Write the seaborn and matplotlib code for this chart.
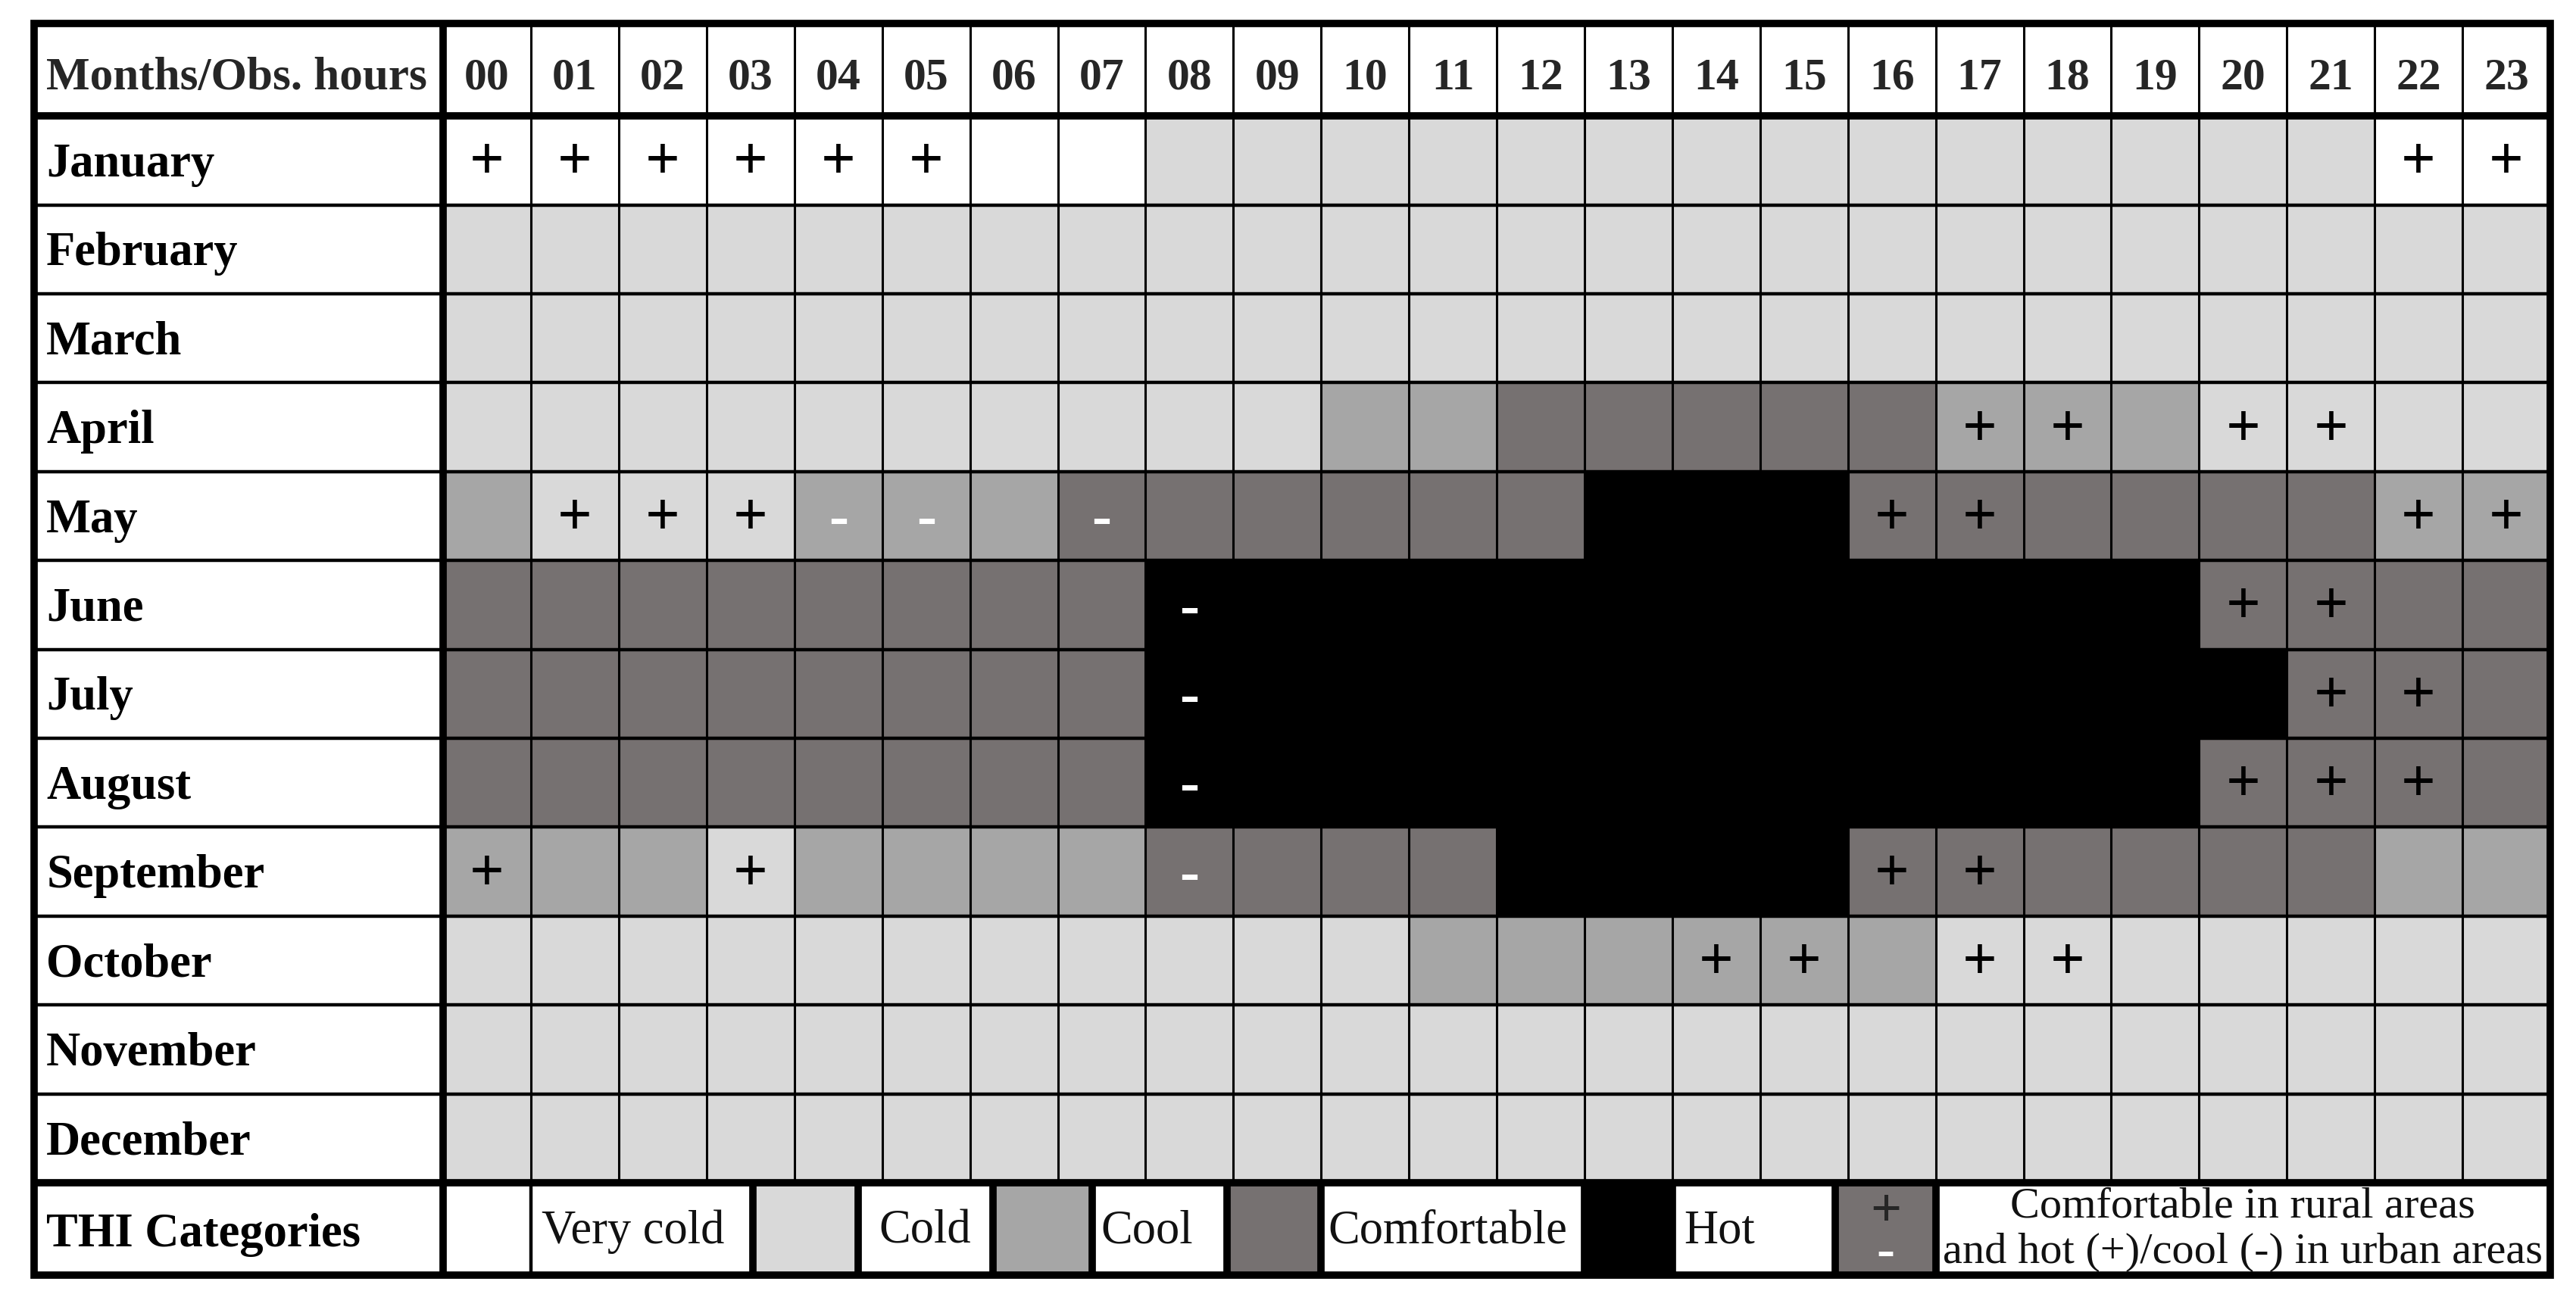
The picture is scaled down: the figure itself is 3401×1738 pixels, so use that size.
import matplotlib
matplotlib.use("Agg")
import numpy as np
import pandas as pd
import matplotlib.pyplot as plt
from matplotlib.colors import ListedColormap
from matplotlib.patches import Rectangle
import seaborn as sns

sns.set_style("white")
plt.rcParams["font.family"] = ["Liberation Serif", "DejaVu Serif"]

hours = [f"{h:02d}" for h in range(24)]
months = ["January", "February", "March", "April", "May", "June", "July",
          "August", "September", "October", "November", "December"]

# THI category by hour: 0 very cold, 1 cold, 2 cool, 3 comfortable, 4 hot
thi_jan = [0, 0, 0, 0, 0, 0, 0, 0, 1, 1, 1, 1, 1, 1, 1, 1, 1, 1, 1, 1, 1, 1, 0, 0]
thi_feb = [1] * 24
thi_mar = [1] * 24
thi_apr = [1, 1, 1, 1, 1, 1, 1, 1, 1, 1, 2, 2, 3, 3, 3, 3, 3, 2, 2, 2, 1, 1, 1, 1]
thi_may = [2, 1, 1, 1, 2, 2, 2, 3, 3, 3, 3, 3, 3, 4, 4, 4, 3, 3, 3, 3, 3, 3, 2, 2]
thi_jun = [3, 3, 3, 3, 3, 3, 3, 3, 4, 4, 4, 4, 4, 4, 4, 4, 4, 4, 4, 4, 3, 3, 3, 3]
thi_jul = [3, 3, 3, 3, 3, 3, 3, 3, 4, 4, 4, 4, 4, 4, 4, 4, 4, 4, 4, 4, 4, 3, 3, 3]
thi_aug = [3, 3, 3, 3, 3, 3, 3, 3, 4, 4, 4, 4, 4, 4, 4, 4, 4, 4, 4, 4, 3, 3, 3, 3]
thi_sep = [2, 2, 2, 1, 2, 2, 2, 2, 3, 3, 3, 3, 4, 4, 4, 4, 3, 3, 3, 3, 3, 3, 2, 2]
thi_oct = [1, 1, 1, 1, 1, 1, 1, 1, 1, 1, 1, 2, 2, 2, 2, 2, 2, 1, 1, 1, 1, 1, 1, 1]
thi_nov = [1] * 24
thi_dec = [1] * 24

# hours that are hot (+) / cool (-) in urban areas
urban_hot = {"January": [0, 1, 2, 3, 4, 5, 22, 23], "April": [17, 18, 20, 21],
             "May": [1, 2, 3, 16, 17, 22, 23], "June": [20, 21], "July": [21, 22],
             "August": [20, 21, 22], "September": [0, 3, 16, 17],
             "October": [14, 15, 17, 18]}
urban_cool = {"May": [4, 5, 7], "June": [8], "July": [8], "August": [8],
              "September": [8]}

category_names = ["Very cold", "Cold", "Cool", "Comfortable", "Hot"]
category_colors = ["#ffffff", "#d9d9d9", "#a6a6a6", "#767171", "#000000"]
mixed_label = ["Comfortable in rural areas", "and hot (+)/cool (-) in urban areas"]

grid = pd.DataFrame([thi_jan, thi_feb, thi_mar, thi_apr, thi_may, thi_jun, thi_jul,
                     thi_aug, thi_sep, thi_oct, thi_nov, thi_dec],
                    index=months, columns=hours)
marks = pd.DataFrame("", index=months, columns=hours)
for m, hs in urban_hot.items():
    for h in hs:
        marks.loc[m, hours[h]] = "+"
for m, hs in urban_cool.items():
    for h in hs:
        marks.loc[m, hours[h]] = "-"

fig = plt.figure(figsize=(34.01, 17.38), dpi=100)
ax = fig.add_axes([0.01323, 0.03107, 0.97677, 0.95109])

sns.heatmap(grid, cmap=ListedColormap(category_colors), vmin=-0.5, vmax=4.5,
            cbar=False, annot=marks, fmt="", xticklabels=False, yticklabels=False,
            annot_kws={"fontsize": 58, "fontweight": "bold"}, ax=ax)
for t in ax.texts:
    x, y = t.get_position()
    t.set_verticalalignment("baseline")
    if t.get_text() == "+":
        t.set_color("black")
        t.set_y(y + 0.21)
    else:
        t.set_color("white")
        t.set_fontsize(56)
        t.set_y(y + 0.22)

x_left, x_right = -4.66, 24
y_top, y_bot = -1.04, 13.04
ax.set_xlim(x_left, x_right)
ax.set_ylim(y_bot, y_top)
ax.set_axis_off()

# header row and month labels
label_kw = dict(fontsize=45, fontweight="bold", color="black")
ax.text(-4.52, -0.30, "Months/Obs. hours", ha="left", va="baseline", fontsize=44,
        fontweight="bold")
for j, h in enumerate(hours):
    ax.text(j + 0.5, -0.30, h, ha="center", va="baseline", fontsize=43, fontweight="bold")
for i, m in enumerate(months):
    ax.text(-4.52, i + 0.68, m, ha="left", va="baseline", **label_kw)
ax.text(-4.52, 12.72, "THI Categories", ha="left", va="baseline", **label_kw)

# legend row
swatch_spans = [(0, 1), (3.53, 4.73), (6.26, 7.39), (8.93, 10), (13, 14)]
text_x = [1.12, 4.96, 7.49, 10.08, 14.13]
for (a, b), col, name, tx in zip(swatch_spans, category_colors, category_names, text_x):
    ax.add_patch(Rectangle((a, 12), b - a, 1.04, facecolor=col, edgecolor="none"))
    ax.text(tx, 12.68, name, ha="left", va="baseline", fontsize=45, color="#111111")
ax.add_patch(Rectangle((15.86, 12), 1.14, 1.04, facecolor=category_colors[3],
                       edgecolor="none"))
ax.text(16.43, 12.49, "+", ha="center", va="baseline", fontsize=52, fontweight="bold")
ax.text(16.43, 12.95, "-", ha="center", va="baseline", fontsize=52, fontweight="bold",
        color="white")
ax.text(20.5, 12.39, mixed_label[0], ha="center", va="baseline", fontsize=42,
        color="#111111")
ax.text(20.5, 12.90, mixed_label[1], ha="center", va="baseline", fontsize=42,
        color="#111111")

# table rules
thin, mid, thick = 2.2, 3.2, 7.0
ax.vlines(np.arange(1, 24), y_top, 12, colors="black", linewidth=thin)
ax.hlines(np.arange(1, 12), x_left, x_right, colors="black", linewidth=mid)
ax.hlines([0, 12], x_left, x_right, colors="black", linewidth=thick)
ax.vlines([0], y_top, y_bot, colors="black", linewidth=thick)
ax.vlines([1], 12, y_bot, colors="black", linewidth=mid)
ax.vlines([3.53, 4.73, 6.26, 7.39, 8.93, 10, 13, 14, 15.86, 17], 12, y_bot,
          colors="black", linewidth=thick)
ax.add_patch(Rectangle((x_left, y_top), x_right - x_left, y_bot - y_top, fill=False,
                       edgecolor="black", linewidth=thick, clip_on=False))

fig.savefig("out.png", dpi=100, facecolor="white")
